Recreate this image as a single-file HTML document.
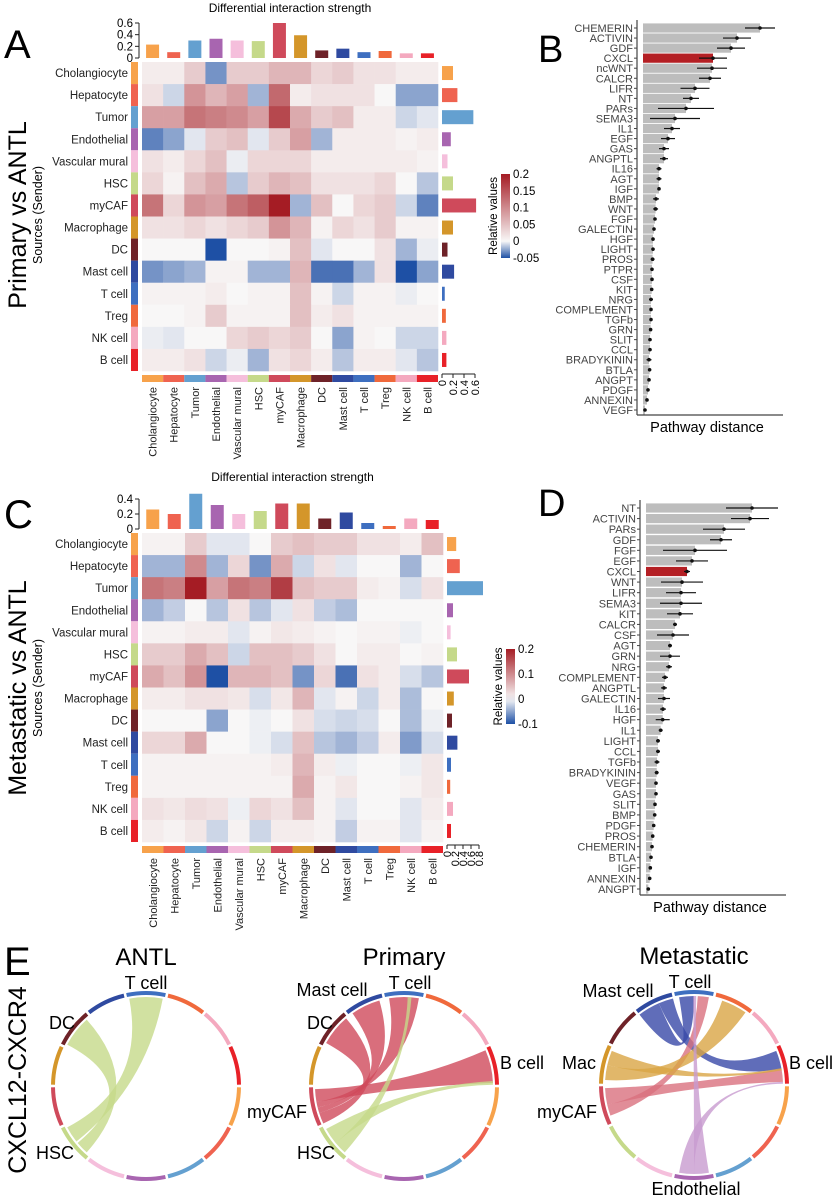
<!DOCTYPE html>
<html><head><meta charset="utf-8">
<style>
html,body{margin:0;padding:0;background:#fff;}
svg{display:block;font-family:"Liberation Sans",Arial,sans-serif;}
</style></head>
<body>
<svg id="fig" width="832" height="1200" viewBox="0 0 832 1200" xmlns="http://www.w3.org/2000/svg">
<text x="4" y="58" font-size="40">A</text>
<text x="538" y="62" font-size="38">B</text>
<text x="4" y="528" font-size="40">C</text>
<text x="538" y="516" font-size="38">D</text>
<text x="4" y="975" font-size="40">E</text>
<text transform="translate(26,215) rotate(-90)" font-size="25" text-anchor="middle">Primary vs ANTL</text>
<text transform="translate(26,688) rotate(-90)" font-size="25" text-anchor="middle">Metastatic vs ANTL</text>
<text transform="translate(42,215) rotate(-90)" font-size="12.5" text-anchor="middle">Sources (Sender)</text>
<text transform="translate(42,688) rotate(-90)" font-size="12.5" text-anchor="middle">Sources (Sender)</text>
<text transform="translate(26,1080) rotate(-90)" font-size="25" text-anchor="middle">CXCL12-CXCR4</text>
<g id="gA"></g>
<g id="gC"></g>
<g id="gB"></g>
<g id="gD"></g>
<g id="gE"></g>
</svg>
<script>
const cellTypes=['Cholangiocyte','Hepatocyte','Tumor','Endothelial','Vascular mural','HSC','myCAF','Macrophage','DC','Mast cell','T cell','Treg','NK cell','B cell'];
const typeColors=['#f7a24b','#ef6350','#64a0d0','#a865b0','#f5bfdc','#c5d98a','#cf4a5b','#d4962a','#6e2228','#2f4aa0','#3e6fc0','#f0693c','#f4a9bf','#e82128'];
const valuesA=[
[0.01,0.01,0.04,-0.03,0.04,0.04,0.06,0.06,0.03,0.04,0.02,0.02,0.01,0.01],
[0.02,-0.01,0.09,0.06,0.08,-0.02,0.13,0.01,0.02,0.02,0.02,0.0,-0.025,-0.025],
[0.08,0.08,0.12,0.11,0.10,0.08,0.16,0.07,0.04,0.05,0.01,0.01,-0.01,-0.005],
[-0.035,-0.025,-0.005,0.04,0.05,-0.005,0.04,0.08,-0.02,0.01,0.01,0.01,0.005,0.01],
[0.02,0.01,0.03,0.05,-0.003,0.03,0.03,0.03,0.01,0.01,0.01,0.01,0.01,0.005],
[0.03,0.005,0.05,0.07,-0.015,0.04,0.06,0.05,0.02,0.02,0.02,0.03,0.0,-0.015],
[0.12,0.03,0.09,0.08,0.12,0.14,0.2,-0.02,0.05,0.0,0.03,0.04,-0.01,-0.035],
[0.02,0.02,0.03,0.02,0.03,0.04,0.09,0.06,0.005,0.03,0.02,0.04,0.005,0.005],
[0.0,0.0,0.0,-0.05,0.0,0.0,0.005,0.05,-0.005,0.0,0.0,0.02,-0.02,-0.003],
[-0.03,-0.025,-0.02,0.005,0.005,-0.02,-0.02,0.06,-0.04,-0.04,-0.02,0.02,-0.05,-0.025],
[0.005,0.005,0.005,0.01,0.0,0.005,0.005,0.05,0.005,-0.01,0.005,0.005,-0.003,0.0],
[0,0,0.005,0.04,0.005,0.005,0.005,0.05,0.01,0.02,0.005,0.005,0.005,0.005],
[-0.003,-0.005,0.0,0.0,0.03,0.04,0.03,0.04,0.0,-0.025,0.005,0.0,-0.01,-0.01],
[0.01,0.01,0.02,-0.01,-0.003,-0.02,0.02,0.03,0.01,-0.015,0.01,0.01,-0.005,-0.015]];
const valuesC=[
[0.005,0.005,0.04,-0.01,-0.01,0.0,0.04,0.05,0.04,0.04,0.02,0.02,0.01,0.05],
[-0.04,-0.04,0.1,-0.04,0.03,-0.06,0.07,-0.02,0.02,-0.01,0.0,0.0,-0.04,0.0],
[0.12,0.11,0.2,0.08,0.12,0.11,0.17,0.05,0.04,0.04,0.01,0.005,-0.015,0.02],
[-0.04,-0.025,0.0,-0.03,0.02,-0.03,-0.01,0.02,-0.025,-0.035,0.0,0.0,0.0,0.0],
[0.005,0.005,0.01,0.01,-0.01,0.005,0.015,0.01,0.005,0.0,0.005,0.005,-0.005,0.0],
[0.04,0.04,0.07,0.05,-0.02,0.05,0.05,0.04,0.02,0.0,0.01,0.01,0.0,0.005],
[0.07,0.05,0.09,-0.1,0.06,0.06,0.05,-0.06,0.03,-0.08,0.02,0.01,-0.015,-0.03],
[0.01,0.01,0.02,0.02,0.015,-0.015,0.015,0.06,-0.01,0.005,-0.02,0.01,-0.035,0.0],
[0.0,0.0,0.0,-0.05,0.0,-0.005,0.0,0.02,-0.015,-0.02,-0.015,0.0,-0.035,-0.005],
[0.03,0.03,0.07,0.0,0.0,-0.005,-0.015,0.05,-0.03,-0.04,-0.025,0.01,-0.055,-0.015],
[0.005,0.005,0.005,0.005,0.005,0.005,0.01,0.06,0.01,-0.005,0.0,0.0,-0.005,0.015],
[0.005,0.005,0.005,0.005,0.005,0.005,0.005,0.07,0.005,0.015,0.0,0.0,0.005,0.015],
[0.02,0.015,0.025,0.02,-0.005,0.03,0.02,0.05,0.005,-0.01,0.0,0.0,-0.01,0.01],
[0.01,0.005,0.015,-0.02,0.005,-0.02,0.01,0.01,0.005,-0.025,0.005,0.005,-0.01,0.005]];
const topBarsA=[0.23,0.1,0.3,0.33,0.3,0.29,0.6,0.39,0.13,0.16,0.1,0.12,0.08,0.08];
const rightBarsA=[0.2,0.28,0.57,0.16,0.1,0.2,0.62,0.2,0.1,0.22,0.05,0.07,0.08,0.08];
const topBarsC=[0.26,0.2,0.47,0.32,0.2,0.24,0.34,0.34,0.14,0.22,0.08,0.04,0.14,0.12];
const rightBarsC=[0.23,0.32,0.9,0.15,0.09,0.25,0.55,0.17,0.125,0.26,0.1,0.08,0.15,0.1];
const topTicksA=[0,0.2,0.4,0.6];
const topTicksC=[0,0.2,0.4];
const rightTicksA=[0,0.2,0.4,0.6];
const rightTicksC=[0,0.2,0.4,0.6,0.8];
const legendTicksA=[0.2,0.15,0.1,0.05,0,-0.05];
const legendTicksC=[0.2,0.1,0,-0.1];

const pathwaysB=['CHEMERIN','ACTIVIN','GDF','CXCL','ncWNT','CALCR','LIFR','NT','PARs','SEMA3','IL1','EGF','GAS','ANGPTL','IL16','AGT','IGF','BMP','WNT','FGF','GALECTIN','HGF','LIGHT','PROS','PTPR','CSF','KIT','NRG','COMPLEMENT','TGFb','GRN','SLIT','CCL','BRADYKININ','BTLA','ANGPT','PDGF','ANNEXIN','VEGF'];
const distB=[117,94,88,70,69,67,52,48,43,32,29,25,21,21,16,16,16,13,12.6,12,11,10,10,9.6,9,9,8.7,8,8,8,7.6,7,7,6,6.6,6,5,4,2];
const errB=[15,14,14,14,15,11,14.5,8,28,25,8,7,5,4,2.5,2.5,1.5,3,2.5,1.5,1.5,1.5,1.5,2,1.5,1.5,1.5,2,1.5,1.5,1.5,1.5,1.5,2.5,1.5,1.5,1.5,1.5,1.5];
const pathwaysD=['NT','ACTIVIN','PARs','GDF','FGF','EGF','CXCL','WNT','LIFR','SEMA3','KIT','CALCR','CSF','AGT','GRN','NRG','COMPLEMENT','ANGPTL','GALECTIN','IL16','HGF','IL1','LIGHT','CCL','TGFb','BRADYKININ','VEGF','GAS','SLIT','BMP','PDGF','PROS','CHEMERIN','BTLA','IGF','ANNEXIN','ANGPT'];
const distD=[106,104,78,75,49,46,41,36,35,35,34,29,27,24,24,23,19,18,18,17,16.7,14.7,12,12,11,10.7,10,10,9,8.7,7.7,6.7,6,5,4.3,3.7,2.3];
const errD=[26,19,21,11,32,16,3,21,15,21,13,2,16,2,10,3,3,3,6,3,7,2,2,2,2.5,2,1.5,1.5,1.5,1.5,1.5,1.5,1.5,1.5,1.5,1.5,1.5];

const chordOrder=[10,11,12,13,0,1,2,3,4,5,6,7,8,9];
const chordsANTL=[[5,0.1,0.45,8,0.05,0.9,'#c5d98a'],[5,0.5,0.95,10,0.05,0.95,'#c5d98a']];
const chordsPrimary=[[6,0.0,0.3,8,0.1,0.95,'#cf4a5b'],[6,0.3,0.45,9,0.1,0.9,'#cf4a5b'],[6,0.45,0.6,10,0.1,0.9,'#cf4a5b'],[6,0.6,0.95,13,0.05,0.95,'#cf4a5b'],[5,0.1,0.45,10,0.6,0.7,'#c5d98a'],[5,0.45,0.9,13,0.9,1.0,'#c5d98a']];
const chordsMeta=[[9,0.0,0.6,10,0.1,0.5,'#3848a8'],[9,0.6,1.0,13,0.1,0.6,'#3848a8'],[6,0.2,0.5,10,0.6,0.9,'#d9707e'],[6,0.5,0.95,13,0.6,0.95,'#d9707e'],[7,0.1,0.5,11,0.2,0.9,'#d9a545'],[7,0.5,0.9,13,0.58,0.64,'#d9a545'],[3,0.1,0.5,10,0.48,0.56,'#c89bd0'],[3,0.5,0.9,13,0.95,1.0,'#c89bd0']];

const NS='http://www.w3.org/2000/svg';
function mk(parent,tag,attrs,text){const e=document.createElementNS(NS,tag);for(const k in attrs)e.setAttribute(k,attrs[k]);if(text!==undefined)e.textContent=text;parent.appendChild(e);return e;}
function mix(a,b,t){return a.map((v,i)=>Math.round(v+(b[i]-v)*t));}
function colorScale(v,vmin,vmax){const w=[248,247,247],r=[165,28,36],b=[30,80,165];let c;if(v>=0)c=mix(w,r,Math.min(1,v/vmax));else c=mix(w,b,Math.min(1,v/vmin));return 'rgb('+c.join(',')+')';}

function heatmap(g,cfg){
  const n=cellTypes.length;
  const cw=cfg.w/n,ch=cfg.h/n;
  const xc=i=>cfg.left+i*cw, yr=i=>cfg.top+i*ch;
  const ty=v=>cfg.topZero-v*cfg.topPx, rx=v=>cfg.rightZero+v*cfg.rightPx;
  const t=mk(g,'text',{x:cfg.left+cfg.w/2,y:cfg.titleY,'font-size':12,'text-anchor':'middle'},'Differential interaction strength');
  
  
  for(let r=0;r<n;r++)for(let c=0;c<n;c++){
    const rc=mk(g,'rect',{x:xc(c),y:yr(r),width:cw+0.3,height:ch+0.3,fill:colorScale(cfg.vals[r][c],cfg.vmin,cfg.vmax)});
    
    
  }
  for(let i=0;i<n;i++){
    const s1=mk(g,'rect',{x:cfg.left-11,y:yr(i),width:7,height:ch,fill:typeColors[i]});
    
    
    const s2=mk(g,'rect',{x:xc(i),y:cfg.top+cfg.h+4,width:cw,height:7,fill:typeColors[i]});
    
    
    const rl=mk(g,'text',{x:cfg.left-14,y:yr(i)+ch/2+4,'font-size':11.5,'text-anchor':'end',fill:'#222'},cellTypes[i]);
    
    
    const cl=mk(g,'text',{transform:`translate(${xc(i)+cw/2+4},${cfg.top+cfg.h+16}) rotate(-90)`,'font-size':11,'text-anchor':'end',fill:'#222'},cellTypes[i]);
    
    
    const tb=mk(g,'rect',{x:xc(i)+cw/2-6.5,y:ty(cfg.topBars[i]),width:13,height:cfg.topBars[i]*cfg.topPx,fill:typeColors[i]});
    
    
    const rb=mk(g,'rect',{x:rx(0),y:yr(i)+ch/2-7,width:cfg.rightBars[i]*cfg.rightPx,height:14,fill:typeColors[i]});
    
    
  }
  const ax=cfg.left-3;
  mk(g,'line',{x1:ax,x2:ax,y1:ty(0),y2:ty(cfg.topTicks[cfg.topTicks.length-1]),stroke:'#222'});
  cfg.topTicks.forEach(v=>{mk(g,'line',{x1:ax-4,x2:ax,y1:ty(v),y2:ty(v),stroke:'#222'});
    const tl=mk(g,'text',{x:ax-6,y:ty(v)+4,'font-size':11.5,'text-anchor':'end'},String(v));
    
    });
  const ay=cfg.top+cfg.h+3;
  mk(g,'line',{x1:rx(0),x2:rx(cfg.rightTicks[cfg.rightTicks.length-1]),y1:ay,y2:ay,stroke:'#222'});
  cfg.rightTicks.forEach(v=>{mk(g,'line',{x1:rx(v),x2:rx(v),y1:ay,y2:ay+4,stroke:'#222'});
    const tl=mk(g,'text',{transform:`translate(${rx(v)+4},${ay+6}) rotate(-90)`,'font-size':11,'text-anchor':'end'},String(v));
    
    });
  const L=cfg.leg, id='grad'+cfg.id;
  const defs=mk(g,'defs',{});const gr=mk(defs,'linearGradient',{id:id,x1:0,y1:0,x2:0,y2:1});
  for(let k=0;k<=10;k++){const v=cfg.vmax-(cfg.vmax-cfg.vmin)*k/10;mk(gr,'stop',{offset:k/10,'stop-color':colorScale(v,cfg.vmin,cfg.vmax)});}
  const lg=mk(g,'rect',{x:L.x,y:L.y,width:9,height:L.h,fill:`url(#${id})`});
  
  
  const ly=v=>L.y+(cfg.vmax-v)/(cfg.vmax-cfg.vmin)*L.h;
  cfg.legTicks.forEach(v=>{const tl=mk(g,'text',{x:L.x+12,y:ly(v)+4,'font-size':11.5},String(v));
    
    });
  const lt=mk(g,'text',{transform:`translate(${L.x-4},${L.y+L.h/2}) rotate(-90)`,'font-size':11.5,'text-anchor':'middle'},'Relative values');
  
  
}
heatmap(document.getElementById('gA'),{id:'A',left:142,top:62,w:296,h:309,vals:valuesA,vmin:-0.05,vmax:0.2,topBars:topBarsA,topZero:58,topPx:35/0.6,topTicks:topTicksA,rightBars:rightBarsA,rightZero:442,rightPx:33/0.6,rightTicks:rightTicksA,titleY:12,leg:{x:501,y:174,h:84},legTicks:legendTicksA});
heatmap(document.getElementById('gC'),{id:'C',left:142,top:533,w:301,h:309,vals:valuesC,vmin:-0.1,vmax:0.2,topBars:topBarsC,topZero:529,topPx:30/0.4,topTicks:topTicksC,rightBars:rightBarsC,rightZero:447,rightPx:40,rightTicks:rightTicksC,titleY:481,leg:{x:506,y:649,h:75},legTicks:legendTicksC});

function barChart(g,names,vals,errs,cfg){
  const n=names.length, step=(cfg.yLast-cfg.yFirst)/(n-1);
  const y=i=>cfg.yFirst+i*step, x=v=>cfg.x0+v*cfg.scale;
  names.forEach((nm,i)=>{
    const b=mk(g,'rect',{x:cfg.x0,y:y(i)-4.6,width:vals[i]*cfg.scale,height:9.2,fill:nm==='CXCL'?'#b41f24':'#bdbdbd'});
    
    
    mk(g,'line',{x1:x(vals[i]-errs[i]),x2:x(vals[i]+errs[i]),y1:y(i),y2:y(i),stroke:'#111','stroke-width':1.2});
    mk(g,'circle',{cx:x(vals[i]),cy:y(i),r:1.8,fill:'#111'});
    mk(g,'line',{x1:cfg.axisX-3,x2:cfg.axisX,y1:y(i),y2:y(i),stroke:'#444'});
    const t=mk(g,'text',{x:cfg.axisX-4,y:y(i)+4,'font-size':11,'text-anchor':'end',fill:'#444'},nm);
    
    
  });
  mk(g,'line',{x1:cfg.axisX,x2:cfg.axisX,y1:cfg.yFirst-8,y2:cfg.axisY,stroke:'#444','stroke-width':1.2});
  mk(g,'line',{x1:cfg.axisX,x2:cfg.axisX+146,y1:cfg.axisY,y2:cfg.axisY,stroke:'#444','stroke-width':1.2});
  const tt=mk(g,'text',{x:cfg.axisX+70,y:cfg.axisY+17,'font-size':14.5,'text-anchor':'middle'},'Pathway distance');
  
  
}
barChart(document.getElementById('gB'),pathwaysB,distB,errB,{x0:643,scale:1,axisX:637,yFirst:28,yLast:410,axisY:415});
barChart(document.getElementById('gD'),pathwaysD,distD,errD,{x0:646,scale:1,axisX:640,yFirst:508,yLast:889,axisY:895});

function chord(g,cx,cy,R,chords,title,labels){
  const seg=360/14, gap=1.6, rad=d=>d*Math.PI/180;
  const segIndex=t=>chordOrder.indexOf(t);
  const ang=(t,f)=>{const i=segIndex(t);const a0=-90+i*seg-seg/2+gap/2;return a0+(seg-gap)*f;};
  const pt=(a,r)=>[cx+r*Math.cos(rad(a)),cy+r*Math.sin(rad(a))];
  const ri=R-4;
  chords.forEach(c=>{
    const a1=ang(c[0],c[1]),a2=ang(c[0],c[2]),b1=ang(c[3],c[4]),b2=ang(c[3],c[5]);
    const p1=pt(a1,ri),p2=pt(a2,ri),q1=pt(b1,ri),q2=pt(b2,ri);
    const d=`M${p1}A${ri},${ri} 0 0 1 ${p2}Q${cx},${cy} ${q1}A${ri},${ri} 0 0 1 ${q2}Q${cx},${cy} ${p1}Z`;
    const p=mk(g,'path',{d:d,fill:c[6],'fill-opacity':0.8});
    
    
  });
  chordOrder.forEach(t=>{
    const a0=ang(t,0),a1=ang(t,1),p0=pt(a0,R),p1=pt(a1,R);
    const s=mk(g,'path',{d:`M${p0}A${R},${R} 0 0 1 ${p1}`,fill:'none',stroke:typeColors[t],'stroke-width':4});
    
    
  });
  const tt=mk(g,'text',{x:cx,y:cy-121,'font-size':24,'text-anchor':'middle'},title);
  
  
  labels.forEach(l=>{const e=mk(g,'text',{x:l[1],y:l[2],'font-size':18,'text-anchor':l[3]},l[0]);
    
    });
}
const gE=document.getElementById('gE');
chord(gE,146,1086,93,chordsANTL,'ANTL',[['T cell',146,989,'middle'],['DC',62,1029,'middle'],['HSC',55,1159,'middle']]);
chord(gE,404,1086,93,chordsPrimary,'Primary',[['Mast cell',332,996,'middle'],['T cell',410,989,'middle'],['DC',320,1029,'middle'],['myCAF',307,1118,'end'],['HSC',316,1159,'middle'],['B cell',500,1069,'start']]);
chord(gE,694,1085,93,chordsMeta,'Metastatic',[['Mast cell',618,997,'middle'],['T cell',690,988,'middle'],['Mac',596,1069,'end'],['myCAF',597,1118,'end'],['B cell',789,1069,'start'],['Endothelial',696,1195,'middle']]);
</script>
</body></html>
